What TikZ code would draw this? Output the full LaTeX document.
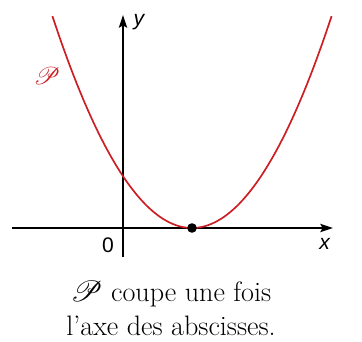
\documentclass[tikz,border=0pt]{standalone}
\usepackage{fontspec}
\usepackage{mathrsfs}
\setsansfont{Liberation Sans}
\usetikzlibrary{arrows.meta}
\definecolor{parRed}{HTML}{CC1F24}
\tikzset{
  >={Stealth[length=3.2mm,width=2.1mm,inset=0.6mm]},
  axis/.style={->, draw=black, line width=0.8pt},
  curve/.style={draw=parRed, line width=1.2pt},
  lbl/.style={font=\fontsize{15}{17}\selectfont\sffamily\itshape, inner sep=0pt},
  captext/.style={font=\fontsize{20}{24}\selectfont, anchor=base, inner sep=0pt},
}

\begin{document}
\begin{tikzpicture}
    \useasboundingbox (-3.075,-2.85) rectangle (5.975,5.7);
    % axes
    \coordinate (xs) at (-2.775,0);
    \coordinate (xe) at (5.25,0);
    \coordinate (ys) at (0,-0.725);
    \coordinate (ye) at (0,5.325);
    \draw[axis] (xs) -- (xe);
    \draw[axis] (ys) -- (ye);
    \node[lbl] (xl) at (5.04,-0.41){x};
    \node[lbl] (yl) at (0.4,5.15){y};
    \node[lbl,font=\fontsize{15}{17}\selectfont\sffamily] (o) at (-0.375,-0.43){0};

    % parabola
    \draw[curve] plot[domain=-1.765:5.215,samples=80] (\x,{0.435*(\x-1.725)^2});
    \node[text=parRed,inner sep=0pt,font=\fontsize{17}{19}\selectfont] (pl) at (-1.9,3.8){$\mathscr{P}$};
    \fill (1.725,0) circle (0.12);

    % caption
    \node[captext] (c1) at (1.2,-1.85){$\mathscr{P}$ coupe une fois};
    \node[captext] (c2) at (1.2,-2.7){l’axe des abscisses.};
  \end{tikzpicture}
\end{document}
